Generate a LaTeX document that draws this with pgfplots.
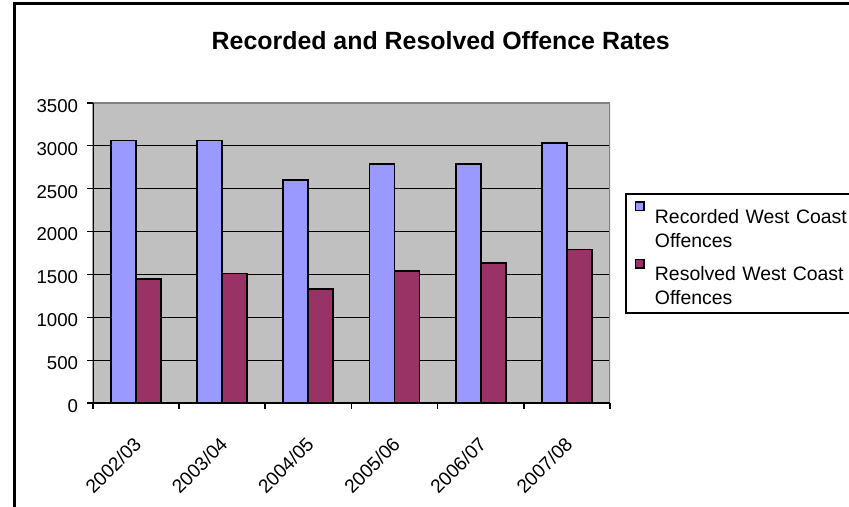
\documentclass[border=0pt]{standalone}
\usepackage{fontspec}
\setmainfont{Liberation Sans}
\usepackage{pgfplots}
\usepackage{pgfplotstable}
\pgfplotsset{compat=1.18}

\definecolor{plotgray}{HTML}{C0C0C0}
\definecolor{rimgray}{HTML}{808080}
\definecolor{recblue}{HTML}{9999FF}
\definecolor{resmaroon}{HTML}{993366}

% Offences per financial year (recorded vs resolved)
\pgfplotstableread{
idx rec  res
0   3060 1445
1   3060 1510
2   2600 1330
3   2790 1540
4   2790 1630
5   3030 1790
}\offences

\newcommand{\tickfont}{\fontsize{18.7}{22}\selectfont}
\newcommand{\twoline}[2]{\begin{tabular}[b]{@{}l@{}}#1\\#2\end{tabular}}

\begin{document}
\begin{tikzpicture}[x=1bp,y=1bp]
\useasboundingbox (0,0) rectangle (849,-507);
\clip (0,0) rectangle (849,-507);
\fill[white] (0,0) rectangle (849,-507);

% chart frame
\draw[line width=2.5bp] (14.7,-520) -- (14.7,-3.3) -- (870,-3.3);

% title
\node[anchor=base, inner sep=0pt, font=\fontsize{25}{29}\selectfont\bfseries]
  at (440.8,-49.3) {Recorded and Resolved Offence Rates};

\begin{axis}[
  at={(92.7bp,-403.3bp)}, anchor=south west,
  scale only axis, width=517.3bp, height=300.6bp,
  xmin=-0.5, xmax=5.5, ymin=0, ymax=3500,
  ybar=0pt, bar width=25bp,
  axis background/.style={fill=plotgray},
  axis line style={draw=none},
  ymajorgrids, major grid style={black, line width=1.5bp},
  xtick={0,...,5},
  xticklabels={2002/03,2003/04,2004/05,2005/06,2006/07,2007/08},
  minor xtick={-0.5,0.5,...,5.5},
  ytick={0,500,...,3500},
  yticklabel={\tickfont\pgfmathprintnumber{\tick}},
  xtick pos=bottom, ytick pos=left,
  tick align=outside,
  major tick length=5.5bp, minor tick length=5.5bp,
  major x tick style={draw=none},
  tick style={black, line width=1.7bp},
  minor x tick style={black, line width=1.7bp},
  scaled y ticks=false,
  /pgf/number format/1000 sep={},
  /pgf/number format/assume math mode=true,
  yticklabel style={anchor=east, inner sep=0pt, xshift=-9bp, yshift=-3bp},
  xticklabel style={font=\fontsize{19.2}{22}\selectfont,
    yshift=-32bp, xshift=2bp, rotate=45, anchor=east, inner sep=0pt},
  legend style={at={(1.029,0.698)}, anchor=north west,
    draw=black, line width=1.7bp, fill=white,
    inner xsep=9bp, inner ysep=7bp,
    column sep=10bp, row sep=10bp,
    font=\fontsize{19.5}{24}\selectfont,
    nodes={inner sep=0pt},
    cells={anchor=north west, text width=210bp}},
  legend image code/.code={%
    \draw[#1, line width=1.6bp] (-1bp,-5bp) rectangle (7.5bp,3.5bp);},
]
\addplot[fill=recblue, draw=black, line width=1.7bp] table[x=idx, y=rec] {\offences};
\addlegendentry{\twoline{Recorded West Coast}{Offences}}
\addplot[fill=resmaroon, draw=black, line width=1.7bp] table[x=idx, y=res] {\offences};
\addlegendentry{\twoline{Resolved West Coast}{Offences}}

% plot-area rim: grey on top and right, black axis lines left and bottom
\draw[rimgray, line width=2bp] (rel axis cs:0,1) -- (rel axis cs:1,1) -- (rel axis cs:1,0);
\draw[black, line width=2bp] (rel axis cs:0,1) -- (rel axis cs:0,0) -- (rel axis cs:1,0);
\end{axis}
\end{tikzpicture}
\end{document}
